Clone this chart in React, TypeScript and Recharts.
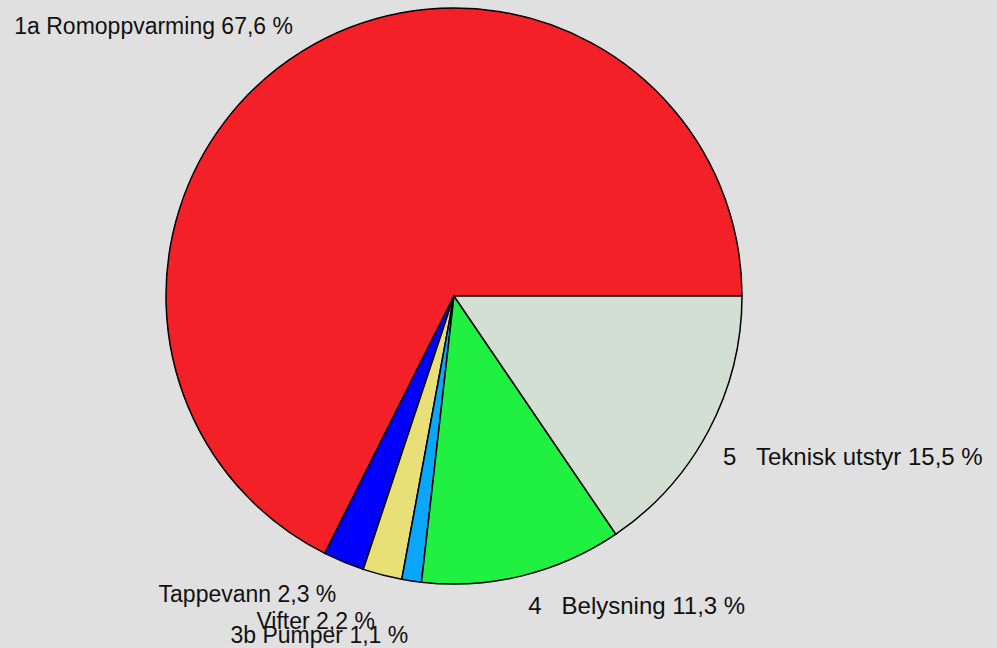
import { PieChart, Pie, Cell } from 'recharts';

const labels = ['1a Romoppvarming', 'Tappevann', 'Vifter', '3b Pumper', '4   Belysning', '5   Teknisk utstyr'];
const shares = [67.6, 2.3, 2.2, 1.1, 11.3, 15.5];
const colors = ['#F32127', '#0000FF', '#E9DF77', '#0AA6FA', '#20F040', '#D2DFD2'];

// small nudges so the labels sit where the original tool put them
const nudge = [
  { dx: 6, dy: 9 },
  { dx: 4, dy: 12 },
  { dx: 0, dy: 25 },
  { dx: 1, dy: 32 },
  { dx: -2, dy: 9 },
  { dx: -12, dy: 20 },
];

const data = labels.map((name, i) => ({ name, value: shares[i] }));

const RAD = Math.PI / 180;

function fmt(n: number) {
  return n.toFixed(1).replace('.', ',') + ' %';
}

function renderLabel(props: any) {
  const { cx, cy, midAngle, outerRadius, index, name, value } = props;
  const r = outerRadius + 30;
  const cos = Math.cos(-midAngle * RAD);
  const sin = Math.sin(-midAngle * RAD);
  const x = cx + r * cos + nudge[index].dx;
  const y = cy + r * sin + nudge[index].dy;
  const right = cos >= 0;
  return (
    <text
      x={x}
      y={y}
      textAnchor={right ? 'start' : 'end'}
      fill="#111"
      fontSize={right ? 24 : 23}
      fontFamily="'Liberation Sans', Arial, sans-serif"
      style={{ whiteSpace: 'pre' }}
    >
      {name + ' ' + fmt(value)}
    </text>
  );
}

export default function App() {
  return (
    <div style={{ width: 997, height: 648, background: '#E0E0E0', position: 'absolute', left: 0, top: 0, overflow: 'hidden' }}>
      <PieChart width={997} height={648} margin={{ top: 0, right: 0, bottom: 0, left: 0 }}>
        <Pie
          data={data}
          dataKey="value"
          cx={454}
          cy={296}
          outerRadius={288}
          startAngle={0}
          endAngle={360}
          stroke="#000"
          strokeWidth={1.5}
          label={renderLabel}
          labelLine={false}
          isAnimationActive={false}
        >
          {data.map((d, i) => (
            <Cell key={d.name} fill={colors[i]} />
          ))}
        </Pie>
      </PieChart>
    </div>
  );
}
